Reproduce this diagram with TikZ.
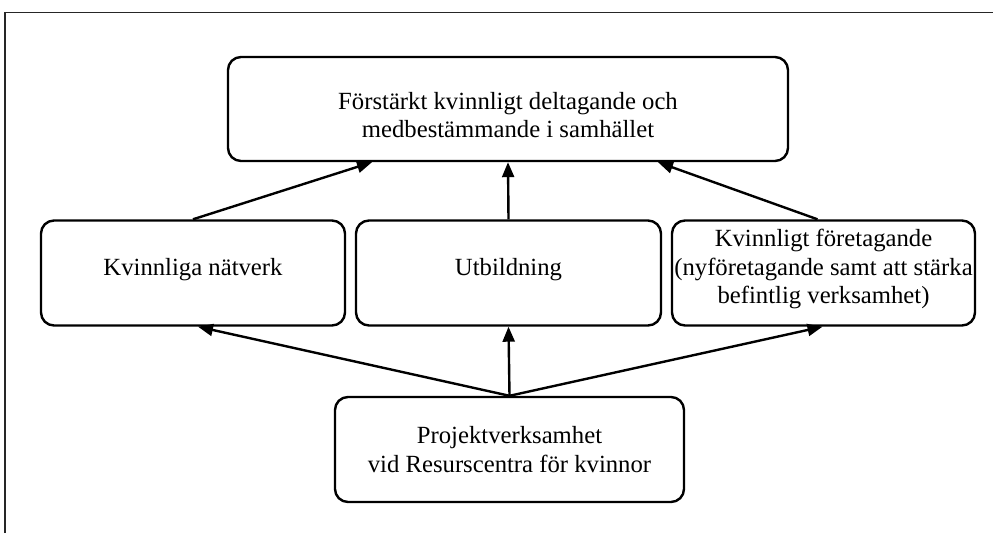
\documentclass[tikz,border=0pt]{standalone}
\usepackage{fontspec}
\setmainfont{Liberation Serif}
\usetikzlibrary{arrows.meta}
\begin{document}
\begin{tikzpicture}[x=1pt,y=-1pt,
  box/.style={draw=black,line width=2.4pt,rounded corners=13pt,fill=white,
    inner sep=0pt},
  txt/.style={align=center,inner sep=0pt,font=\fontsize{24.7}{28.7}\selectfont},
  arr/.style={line width=2.4pt,-{Triangle[length=15pt,width=12pt]}},
  frameline/.style={line width=1.6pt,draw=black!85}]
\useasboundingbox (0,0) rectangle (993,533);
\draw[frameline] (5,533) -- (5,12.5) -- (993,12.5);
\node[box,minimum width=560pt,minimum height=104pt] (top) at (508,109) {};
\node[box,minimum width=304pt,minimum height=105pt] (left) at (193,273) {};
\node[box,minimum width=305pt,minimum height=105pt] (mid) at (508.5,273) {};
\node[box,minimum width=303pt,minimum height=105pt] (right) at (823.5,273) {};
\node[box,minimum width=349pt,minimum height=105pt] (bot) at (509.5,449.5) {};
\node[txt] (toptext) at ([yshift=-6pt]top.center)
  {Förstärkt kvinnligt deltagande och\\medbestämmande i samhället};
\node[txt] (lefttext) at ([yshift=3pt]left.center) {Kvinnliga nätverk};
\node[txt] (midtext) at ([yshift=3pt]mid.center) {Utbildning};
\node[txt] (righttext) at ([yshift=4pt]right.center)
  {Kvinnligt företagande\\(nyföretagande samt att stärka\\befintlig verksamhet)};
\node[txt] (bottext) at (bot.center)
  {Projektverksamhet\\vid Resurscentra för kvinnor};
\draw[arr] (left.north) -- ([xshift=-136pt]top.south);
\draw[arr] (mid.north) -- (top.south);
\draw[arr] ([xshift=-6pt]right.north) -- ([xshift=150pt]top.south);
\draw[arr] (bot.north) -- ([xshift=5pt]left.south);
\draw[arr] (bot.north) -- (mid.south);
\draw[arr] (bot.north) -- ([xshift=-1pt]right.south);
\end{tikzpicture}
\end{document}
